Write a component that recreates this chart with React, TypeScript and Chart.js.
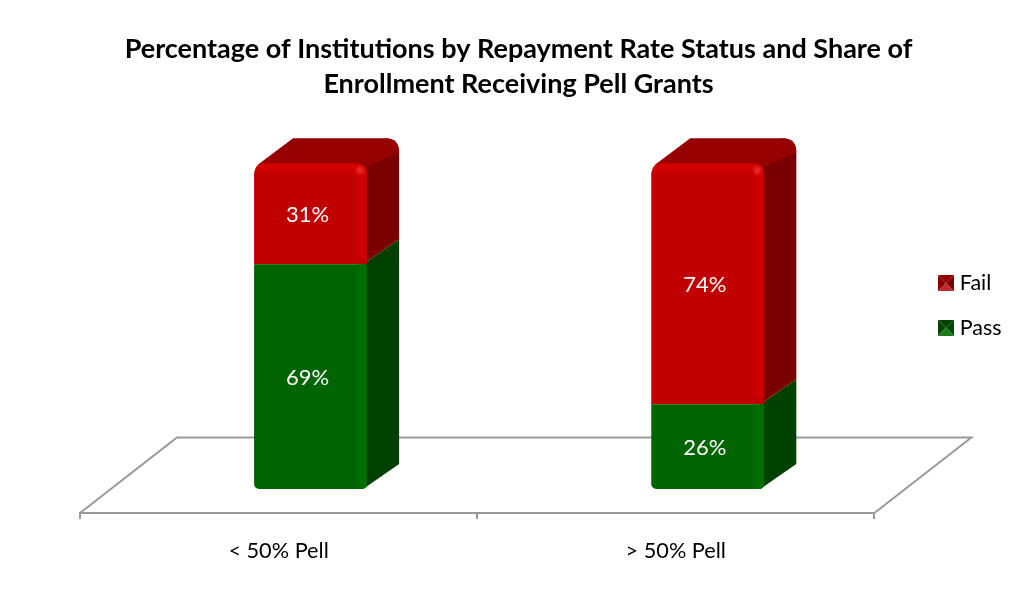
import React, { useEffect, useRef } from "react";
import { Chart, registerables } from "chart.js";

Chart.register(...registerables);

const titleLines = [
  "Percentage of Institutions by Repayment Rate Status and Share of",
  "Enrollment Receiving Pell Grants",
];
const categories = ["< 50% Pell", "> 50% Pell"];
const passValues = [69, 26];
const failValues = [31, 74];
const yTicksMax = 100;

const FONT = "Lato, Carlito, Calibri, sans-serif";
const FLOOR_DX = 97;
const FLOOR_DY = -75.5;
const BAR_DX = 32;
const BAR_DY = -24;
const SIDE_DX = 32;
const SIDE_DY = -25;

const palette: Record<string, any> = {
  Pass: { front: "#006400", light: "#006f00", side: "#004000", top: "#004f00", hot: "#108010" },
  Fail: { front: "#c00000", light: "#d00000", side: "#7a0000", top: "#960000", hot: "#ee3030" },
};

function swatch(dark: string, mid: string, light: string, lighter: string) {
  const c = document.createElement("canvas");
  c.width = 16;
  c.height = 16;
  const g = c.getContext("2d")!;
  const tri = (col: string, pts: number[][]) => {
    g.fillStyle = col;
    g.beginPath();
    pts.forEach((p, i) => (i ? g.lineTo(p[0], p[1]) : g.moveTo(p[0], p[1])));
    g.closePath();
    g.fill();
  };
  tri(dark, [[0, 0], [16, 0], [8, 8]]);
  tri(mid, [[0, 0], [0, 16], [8, 8]]);
  tri(light, [[16, 0], [16, 16], [8, 8]]);
  tri(lighter, [[0, 16], [16, 16], [8, 8]]);
  return c;
}

const floorAndBars = {
  id: "floorAndBars",
  afterLayout(chart: any) {
    const legend = chart.legend;
    const padding = legend.options.labels.padding;
    const h = legend.height;
    legend.left = 943 - padding;
    legend.right = legend.left + legend.width;
    legend.top = 305.5 - h / 2;
    legend.bottom = legend.top + h;
    const title = chart.titleBlock;
    title.left = 0;
    title.right = 1037;
  },
  beforeDatasetsDraw(chart: any) {
    const { ctx, chartArea } = chart;
    const { left, right, bottom } = chartArea;
    ctx.save();
    ctx.strokeStyle = "#999999";
    ctx.lineWidth = 2;
    ctx.beginPath();
    ctx.moveTo(left, bottom);
    ctx.lineTo(left + FLOOR_DX, bottom + FLOOR_DY);
    ctx.lineTo(right + FLOOR_DX, bottom + FLOOR_DY);
    ctx.lineTo(right, bottom);
    ctx.stroke();
    ctx.restore();

    ctx.save();
    ctx.translate(BAR_DX, BAR_DY);
    chart.data.datasets.forEach((ds: any, di: number) => {
      const col = palette[ds.label];
      chart.getDatasetMeta(di).data.forEach((bar: any) => {
        const L = bar.x - bar.width / 2;
        const R = bar.x + bar.width / 2;
        const top = bar.y;
        const base = bar.base;
        const isTop = ds.label === "Fail";
        const r = 14;
        ctx.fillStyle = col.side;
        ctx.beginPath();
        ctx.moveTo(R - 4, base);
        ctx.lineTo(R + SIDE_DX, base + SIDE_DY);
        if (isTop) {
          ctx.lineTo(R + SIDE_DX, top + SIDE_DY + r);
          ctx.quadraticCurveTo(R + SIDE_DX, top + SIDE_DY, R + SIDE_DX - r, top + SIDE_DY);
          ctx.lineTo(R - 8, top);
        } else {
          ctx.lineTo(R + SIDE_DX, top + SIDE_DY);
          ctx.lineTo(R - 4, top);
        }
        ctx.closePath();
        ctx.fill();
        if (isTop) {
          ctx.fillStyle = col.top;
          ctx.beginPath();
          ctx.moveTo(L + 3, top + 2);
          ctx.lineTo(L + SIDE_DX + 7, top + SIDE_DY);
          ctx.lineTo(R + SIDE_DX - r, top + SIDE_DY);
          ctx.quadraticCurveTo(R + SIDE_DX, top + SIDE_DY, R + SIDE_DX, top + SIDE_DY + r);
          ctx.lineTo(R - 1, top + 4);
          ctx.closePath();
          ctx.fill();
        }
      });
    });
  },
  afterDatasetsDraw(chart: any) {
    const { ctx } = chart;
    chart.data.datasets.forEach((ds: any, di: number) => {
      const col = palette[ds.label];
      chart.getDatasetMeta(di).data.forEach((bar: any, i: number) => {
        const L = bar.x - bar.width / 2;
        const R = bar.x + bar.width / 2;
        const top = bar.y;
        const base = bar.base;
        const isTop = ds.label === "Fail";
        ctx.save();
        ctx.beginPath();
        ctx.roundRect(L, top, bar.width, base - top, isTop ? [10, 10, 0, 0] : [0, 0, 5, 5]);
        ctx.clip();
        const rg = ctx.createLinearGradient(R - 14, 0, R, 0);
        rg.addColorStop(0, col.light + "00");
        rg.addColorStop(0.6, col.light);
        rg.addColorStop(0.85, col.light);
        rg.addColorStop(1, col.front);
        ctx.fillStyle = rg;
        ctx.fillRect(R - 14, top + (isTop ? 4 : 0), 14, base - top - (isTop ? 10 : 0));
        if (isTop) {
          const tg = ctx.createLinearGradient(0, top, 0, top + 13);
          tg.addColorStop(0, col.light);
          tg.addColorStop(0.6, col.light);
          tg.addColorStop(1, col.light + "00");
          ctx.fillStyle = tg;
          ctx.fillRect(L + 2, top, bar.width - 3, 13);
          const hg = ctx.createRadialGradient(R - 7, top + 7, 0, R - 7, top + 7, 6);
          hg.addColorStop(0, col.hot);
          hg.addColorStop(1, col.hot + "00");
          ctx.fillStyle = hg;
          ctx.fillRect(R - 14, top, 14, 14);
        }
        ctx.restore();
        ctx.save();
        ctx.fillStyle = "#ffffff";
        ctx.font = `22px ${FONT}`;
        ctx.textAlign = "center";
        ctx.textBaseline = "middle";
        ctx.fillText(`${ds.data[i]}%`, bar.x - 3, (top + base) / 2 + 1);
        ctx.restore();
      });
    });
    ctx.restore();
  },
};

export default function App() {
  const ref = useRef<HTMLCanvasElement>(null);
  useEffect(() => {
    const chart = new Chart(ref.current!, {
      type: "bar",
      data: {
        labels: categories,
        datasets: [
          {
            label: "Pass",
            data: passValues,
            backgroundColor: palette.Pass.front,
            borderRadius: { bottomLeft: 5, bottomRight: 5, topLeft: 0, topRight: 0 },
            borderSkipped: false,
            pointStyle: swatch("#004400", "#004400", "#004400", "#1a7a1a"),
          },
          {
            label: "Fail",
            data: failValues,
            backgroundColor: palette.Fail.front,
            borderRadius: { topLeft: 10, topRight: 10, bottomLeft: 0, bottomRight: 0 },
            borderSkipped: false,
            pointStyle: swatch("#960000", "#8a0000", "#7a0000", "#c02a2a"),
          },
        ],
      },
      options: {
        responsive: false,
        animation: false,
        events: [],
        layout: { padding: { left: 80, right: 52, top: 0, bottom: 13 } },
        datasets: { bar: { categoryPercentage: 0.2846, barPercentage: 1, clip: false } },
        scales: {
          x: {
            stacked: true,
            grid: { drawOnChartArea: false, drawTicks: true, tickLength: 6, color: "#999999", lineWidth: 2, offset: true },
            border: { color: "#999999", width: 2 },
            ticks: { color: "#000000", font: { family: FONT, size: 21.7 }, padding: 19, maxRotation: 0 },
          },
          y: { stacked: true, display: false, min: 0, max: yTicksMax },
        },
        plugins: {
          title: {
            display: true,
            text: titleLines,
            color: "#000000",
            font: { family: FONT, size: 27, weight: "bold", lineHeight: 1.3 },
            padding: { top: 32, bottom: 85 },
          },
          legend: {
            display: true,
            position: "right",
            reverse: true,
            labels: {
              usePointStyle: true,
              boxWidth: 6,
              boxHeight: 6,
              padding: 23,
              color: "#000000",
              font: { family: FONT, size: 21.5 },
            },
          },
          tooltip: { enabled: false },
        },
      } as any,
      plugins: [floorAndBars],
    });
    return () => chart.destroy();
  }, []);
  return (
    <div style={{ position: "absolute", left: 0, top: 0, width: 1018, height: 596, background: "#fff" }}>
      <canvas ref={ref} width={1018} height={596} style={{ display: "block" }} />
    </div>
  );
}
